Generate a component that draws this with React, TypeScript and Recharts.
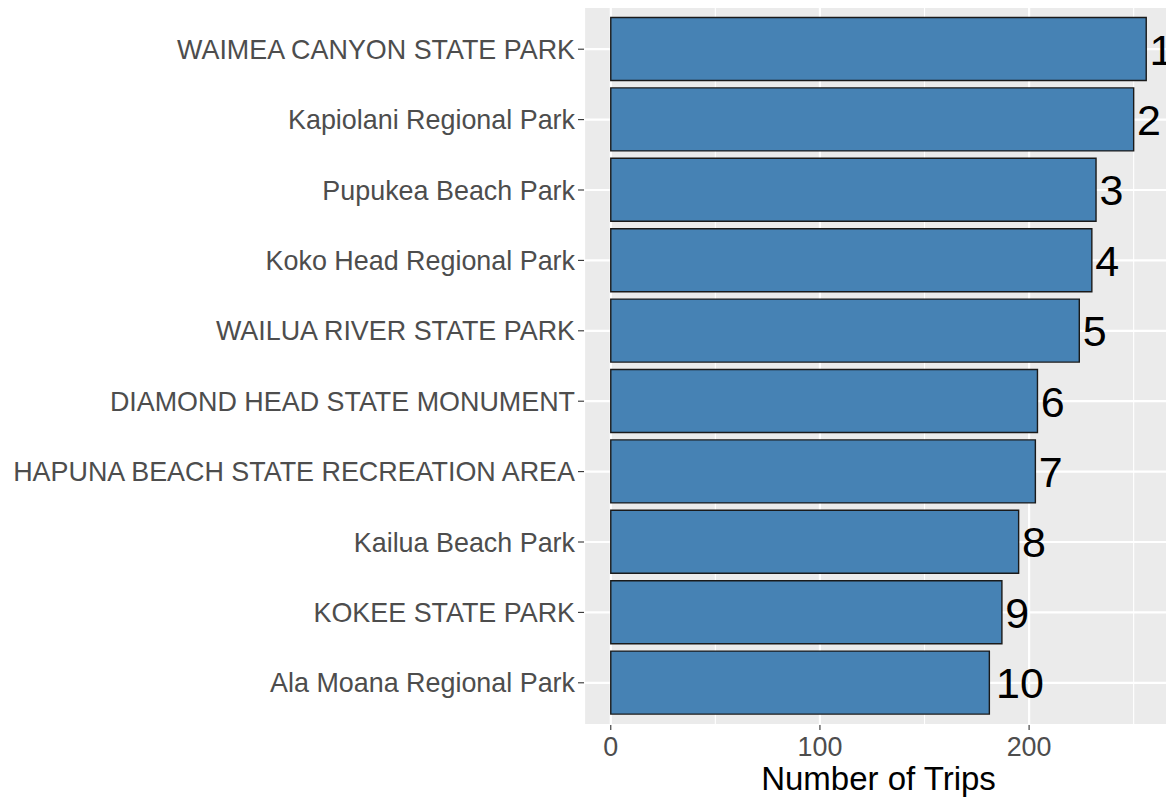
import {
  BarChart,
  Bar,
  XAxis,
  YAxis,
  CartesianGrid,
  LabelList,
} from 'recharts';

// Top 10 parks by number of trips
const parks = [
  'WAIMEA CANYON STATE PARK',
  'Kapiolani Regional Park',
  'Pupukea Beach Park',
  'Koko Head Regional Park',
  'WAILUA RIVER STATE PARK',
  'DIAMOND HEAD STATE MONUMENT',
  'HAPUNA BEACH STATE RECREATION AREA',
  'Kailua Beach Park',
  'KOKEE STATE PARK',
  'Ala Moana Regional Park',
];
const trips = [256, 250, 232, 230, 224, 204, 203, 195, 187, 181];
const ranks = ['1', '2', '3', '4', '5', '6', '7', '8', '9', '10'];

const majorTicks = [0, 100, 200];
const minorTicks = [50, 150, 250];

const data = parks.map((name, i) => ({ name, trips: trips[i], rank: ranks[i] }));

const FONT = '"Liberation Sans", Arial, Helvetica, sans-serif';
const AXIS_SIZE = 26.9;
const RANK_SIZE = 43;
const X_DOMAIN = [-12.8, 268.8];

function ParkTick({ x, y, payload }: any) {
  return (
    <text x={x} y={y} dy="0.36em" textAnchor="end" fill="#4D4D4D" fontSize={AXIS_SIZE} fontFamily={FONT}>
      {payload.value}
    </text>
  );
}

function RankLabel({ x, y, width, height, value }: any) {
  const w = String(value).length * 0.556 * RANK_SIZE;
  return (
    <text
      x={x + width + 0.14 * w}
      y={y + height / 2}
      dy="0.36em"
      textAnchor="start"
      fill="#000"
      fontSize={RANK_SIZE}
      fontFamily={FONT}
    >
      {value}
    </text>
  );
}

export default function App() {
  return (
    <div
      style={{
        position: 'absolute',
        left: 0,
        top: 0,
        width: 1166,
        height: 799,
        overflow: 'hidden',
        background: '#fff',
        fontFamily: FONT,
      }}
    >
      <BarChart
        width={1180}
        height={799}
        data={data}
        layout="vertical"
        margin={{ top: 7, right: 7, bottom: 0, left: 0 }}
        barCategoryGap="5%"
      >
        <CartesianGrid fill="#EBEBEB" stroke="#FFFFFF" strokeWidth={2.2} />
        {/* minor vertical grid from a hidden axis */}
        <CartesianGrid xAxisId="minor" horizontal={false} stroke="#FFFFFF" strokeWidth={1.1} />
        <XAxis xAxisId="minor" type="number" domain={X_DOMAIN} ticks={minorTicks} allowDataOverflow hide />
        <XAxis
          type="number"
          dataKey="trips"
          domain={X_DOMAIN}
          ticks={majorTicks}
          allowDataOverflow
          axisLine={false}
          tickLine={{ stroke: '#333333', strokeWidth: 1.1 }}
          tickSize={5}
          tickMargin={7}
          height={74}
          tick={{ fill: '#4D4D4D', fontSize: AXIS_SIZE, fontFamily: FONT }}
          label={{
            value: 'Number of Trips',
            position: 'insideBottom',
            offset: 9,
            fill: '#000000',
            fontSize: 33,
            fontFamily: FONT,
          }}
        />
        <YAxis
          type="category"
          dataKey="name"
          width={584}
          axisLine={false}
          tickLine={{ stroke: '#333333', strokeWidth: 1.1 }}
          tickSize={6}
          tickMargin={3}
          padding={{ top: 7, bottom: 7 }}
          interval={0}
          tick={<ParkTick />}
        />
        <Bar dataKey="trips" fill="#4682B4" stroke="#1A1A1A" strokeWidth={1.4} isAnimationActive={false}>
          <LabelList dataKey="rank" content={<RankLabel />} />
        </Bar>
      </BarChart>
    </div>
  );
}
